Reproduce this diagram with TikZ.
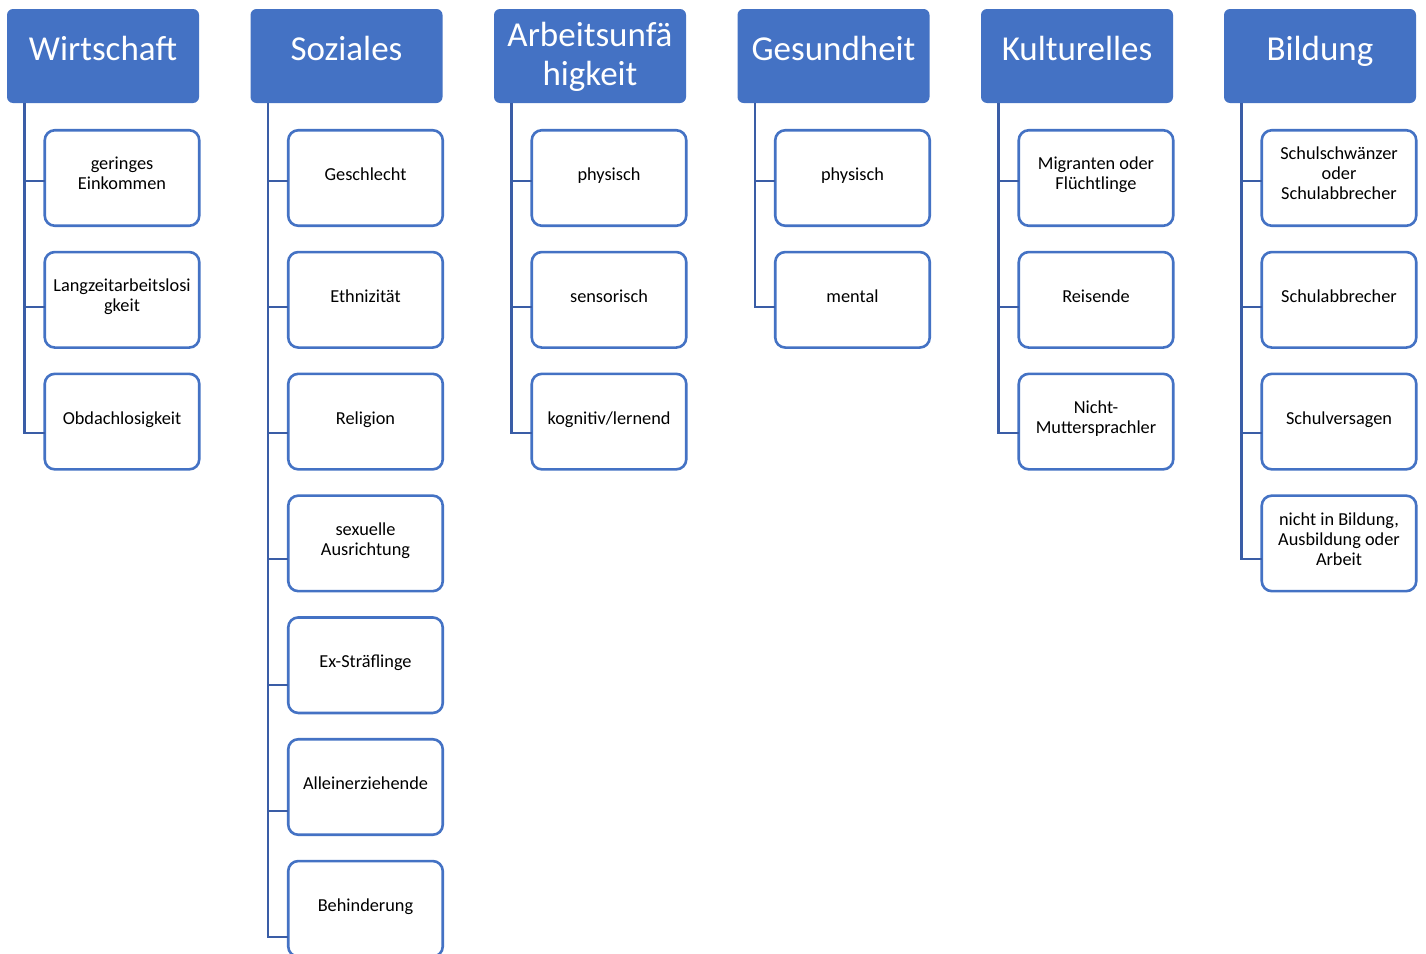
\documentclass[tikz,border=0pt]{standalone}
\usepackage{fontspec}
\setmainfont{Carlito}
\definecolor{hdrblue}{HTML}{4472C4}
\definecolor{bordblue}{HTML}{4472C4}
\definecolor{connblue}{HTML}{3A5DA6}
\newcommand{\mkcol}[5]{%
  \node[hdrbox] (#1) at (#2,9) {};
  \node[hdrtext, yshift=#4] (#1t) at (#1.center) {#3};
  \coordinate (#1v) at ([xshift=17.5pt]#1.south west);
  \foreach \c [count=\k from 0] in {#5} {
    \node[childbox] (#1c\k) at (#2+36.5+1.25, 129+121.8*\k+1.25) {};
    \node[childtext] (#1t\k) at ([yshift=1.4pt]#1c\k.center) {\c};
    \draw[connline] (#1v) |- ([yshift=-(3+4.2*\k)]#1c\k.west);
  }
}
\begin{document}
\begin{tikzpicture}[x=1pt,y=-1pt,
  hdrbox/.style={draw=none, fill=hdrblue, rounded corners=6pt, minimum width=192pt, minimum height=94pt, anchor=north west, inner sep=0pt, outer sep=0pt},
  hdrtext/.style={text=white, font=\fontsize{35}{39}\selectfont, align=center, inner sep=0pt, execute at begin node=\strut, execute at end node=\strut},
  childbox/.style={draw=bordblue, line width=2.6pt, fill=white, rounded corners=10pt, minimum width=154.5pt, minimum height=95.5pt, anchor=north west, inner sep=0pt, outer sep=0pt},
  childtext/.style={text=black, font=\fontsize{18.3}{20}\selectfont, align=center, inner sep=0pt, execute at begin node=\strut, execute at end node=\strut},
  connline/.style={draw=connblue, line width=2.6pt}]
\useasboundingbox (0,0) rectangle (1426,953);
\clip (0,0) rectangle (1426,953);
\fill[white] (0,0) rectangle (1426,953);
\mkcol{wi}{7}{Wirtschaft}{3.8pt}{{geringes\\Einkommen},{Langzeitarbeitslosi\\gkeit},{Obdachlosigkeit}}
\mkcol{so}{250.5}{Soziales}{3.8pt}{{Geschlecht},{Ethnizität},{Religion},{sexuelle\\Ausrichtung},{Ex-Sträflinge},{Alleinerziehende},{Behinderung}}
\mkcol{ar}{494}{Arbeitsunfä\\higkeit}{-4pt}{{physisch},{sensorisch},{kognitiv/lernend}}
\mkcol{ge}{737.5}{Gesundheit}{3.8pt}{{physisch},{mental}}
\mkcol{ku}{981}{Kulturelles}{3.8pt}{{Migranten oder\\Flüchtlinge},{Reisende},{Nicht-\\Muttersprachler}}
\mkcol{bi}{1224}{Bildung}{3.8pt}{{Schulschwänzer\\oder\\Schulabbrecher},{Schulabbrecher},{Schulversagen},{nicht in Bildung,\\Ausbildung oder\\Arbeit}}
\end{tikzpicture}
\end{document}
